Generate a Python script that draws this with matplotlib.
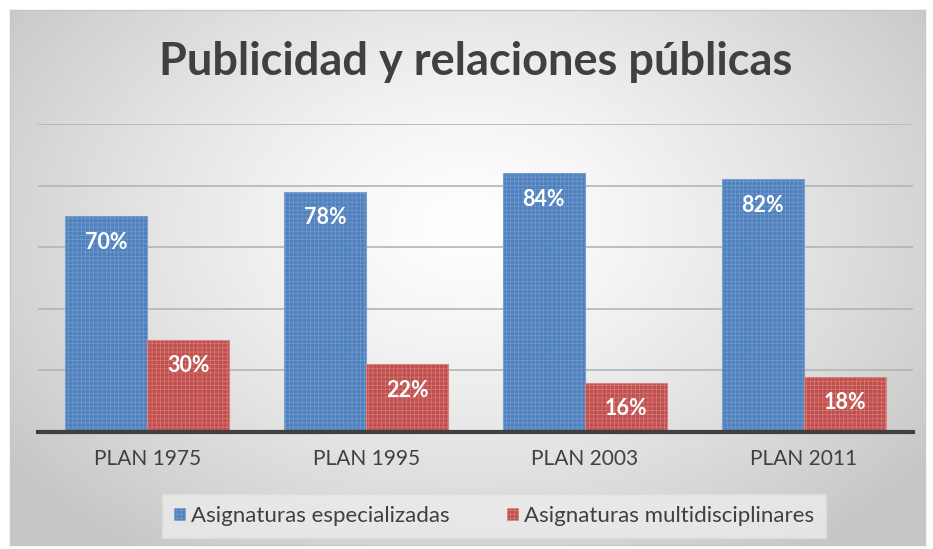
import numpy as np
import matplotlib
matplotlib.use("Agg")
import matplotlib.pyplot as plt
from matplotlib.patches import Patch

categories = ["PLAN 1975", "PLAN 1995", "PLAN 2003", "PLAN 2011"]
especializadas = [70, 78, 84, 82]
multidisciplinares = [30, 22, 16, 18]
series_names = ["Asignaturas especializadas", "Asignaturas multidisciplinares"]
title = "Publicidad y relaciones públicas"

plt.rcParams['font.family'] = ['Lato', 'DejaVu Sans']
plt.rcParams['hatch.linewidth'] = 0.4

W, H = 933, 549
fig = plt.figure(figsize=(W / 100, H / 100), dpi=100)
fig.patch.set_facecolor('white')

# chart area background (radial gradient)
bg = fig.add_axes([10 / W, 4 / H, 915 / W, 535 / H], zorder=0)
ny, nx = 300, 500
yy, xx = np.mgrid[0:ny, 0:nx]
cx, cy = nx * 0.5, ny * 0.40
r = np.sqrt(((xx - cx) / (nx * 0.62)) ** 2 + ((yy - cy) / (ny * 0.75)) ** 2)
r = np.clip(r, 0, 1)
val = 1.0 - 0.22 * r ** 1.3
img = np.dstack([val, val, val])
bg.imshow(img, aspect='auto', extent=[0, 1, 0, 1], origin='upper')
bg.set_xlim(0, 1); bg.set_ylim(0, 1)
bg.set_xticks([]); bg.set_yticks([])
for s in bg.spines.values():
    s.set_color('#c8c8c8'); s.set_linewidth(1.0)

ax = fig.add_axes([38 / W, (H - 432) / H, 875 / W, (432 - 124) / H], zorder=1)
ax.patch.set_alpha(0)
x = np.arange(len(categories))
w = 0.375
blue, red = '#4F81BD', '#C0504D'
blue_h, red_h = '#7a9fd0', '#d98381'
b1 = ax.bar(x - w / 2, especializadas, w, color=blue, edgecolor=blue_h,
            hatch='++++', linewidth=0.8, zorder=3)
b2 = ax.bar(x + w / 2, multidisciplinares, w, color=red, edgecolor=red_h,
            hatch='++++', linewidth=0.8, zorder=3)

for bars, vals in ((b1, especializadas), (b2, multidisciplinares)):
    for rect, v in zip(bars, vals):
        ax.text(rect.get_x() + rect.get_width() / 2, v - 8.5, f"{v}%",
                ha='center', va='center', color='white', fontsize=15.5,
                fontweight='bold', zorder=5)

ax.set_xlim(-0.5, 3.5)
ax.set_ylim(0, 100)
ax.set_yticks(np.arange(0, 101, 20))
ax.yaxis.grid(True, color='#b4b4b4', linewidth=1.2, zorder=0)
ax.tick_params(axis='y', left=False, labelleft=False)
ax.set_xticks(x)
ax.set_xticklabels(categories, fontsize=15, color='#404040')
ax.tick_params(axis='x', length=0, pad=12)
for s in ['top', 'right', 'left']:
    ax.spines[s].set_visible(False)
ax.spines['bottom'].set_color('#404040')
ax.spines['bottom'].set_linewidth(3)
ax.spines['bottom'].set_zorder(4)

fig.text(476 / W, 1 - 62 / H, title, ha='center', va='center',
         fontsize=32.5, fontweight='bold', color='#404040')

handles = [Patch(facecolor=blue, edgecolor=blue_h, hatch='++++', linewidth=0.5),
           Patch(facecolor=red, edgecolor=red_h, hatch='++++', linewidth=0.5)]
leg = fig.legend(handles, series_names, loc='center', bbox_to_anchor=(494 / W, 1 - 516 / H),
                 ncol=2, fontsize=16, frameon=True, fancybox=False,
                 handlelength=0.5, handleheight=0.5, handletextpad=0.25,
                 columnspacing=2.6, borderpad=0.55)
leg.get_frame().set_facecolor('#ececec')
leg.get_frame().set_edgecolor('#dcdcdc')
for t in leg.get_texts():
    t.set_color('#404040')

fig.savefig('out.png', dpi=100)
